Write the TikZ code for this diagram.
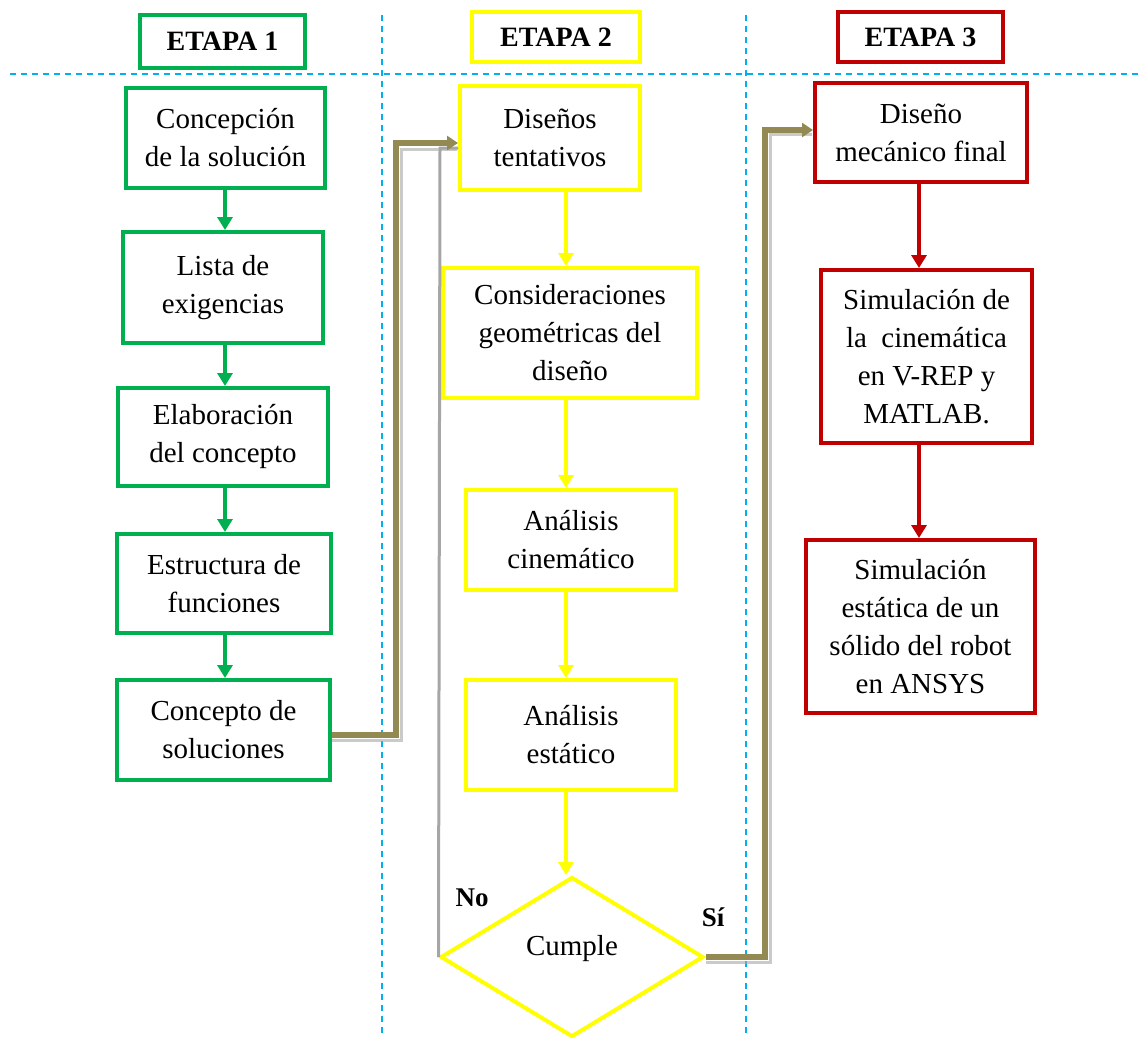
\documentclass[tikz,border=0pt]{standalone}
\usepackage{fontspec}
\setmainfont{Liberation Serif}
\usetikzlibrary{shapes.geometric,arrows.meta}
\definecolor{etgreen}{HTML}{00B050}
\definecolor{etyellow}{HTML}{FFFF00}
\definecolor{etred}{HTML}{C00000}
\definecolor{olive}{HTML}{938953}
\definecolor{loopgray}{HTML}{A6A6A6}
\definecolor{guide}{HTML}{00B0F0}
\tikzset{
  box/.style={draw, line width=4pt, fill=white, inner sep=0pt, align=center,
    font=\fontsize{29}{38}\selectfont},
  head/.style={box, font=\fontsize{28}{34}\selectfont\bfseries},
  gbox/.style={box, draw=etgreen},
  ybox/.style={box, draw=etyellow},
  rbox/.style={box, draw=etred},
  flow/.style={line width=4pt, -{Triangle[width=15pt,length=13pt]}},
  link/.style={draw=olive, line width=6pt, -{Triangle[width=14pt,length=11pt]}},
  shade/.style={draw=loopgray, line width=3pt, opacity=0.6},
  guideline/.style={draw=guide, line width=1.5pt, dash pattern=on 6pt off 5pt},
  tag/.style={font=\fontsize{27}{30}\selectfont\bfseries}
}
\begin{document}
\begin{tikzpicture}[x=1pt, y=-1pt]
\useasboundingbox (0,0) rectangle (1140,1038);

% stage separators
\draw[guideline] (10,74) -- (1140,74);
\draw[guideline] (382,15) -- (382,1038);
\draw[guideline] (746,15) -- (746,1038);

% stage headings
\node[head, draw=etgreen, minimum width=165pt, minimum height=53pt] (h1) at (222.5,41.5) {ETAPA 1};
\node[head, draw=etyellow, minimum width=168pt, minimum height=50pt] (h2) at (556,37) {ETAPA 2};
\node[head, draw=etred, minimum width=165pt, minimum height=50pt] (h3) at (920.5,37) {ETAPA 3};

% stage 1
\node[gbox, minimum width=199pt, minimum height=100pt] (c1) at (225.5,138) {Concepción\\de la solución};
\node[gbox, minimum width=200pt, minimum height=111pt] (c2) at (223,287.5) {Lista de\\exigencias};
\node[gbox, minimum width=210pt, minimum height=98pt] (c3) at (223,437) {Elaboración\\del concepto};
\node[gbox, minimum width=214pt, minimum height=99pt] (c4) at (224,583.5) {Estructura de\\funciones};
\node[gbox, minimum width=213pt, minimum height=100pt] (c5) at (223.5,730) {Concepto de\\soluciones};

% stage 2
\node[ybox, minimum width=180pt, minimum height=104pt] (d1) at (550,138) {Diseños\\tentativos};
\node[ybox, minimum width=254pt, minimum height=130pt] (d2) at (570,333) {Consideraciones\\geométricas del\\diseño};
\node[ybox, minimum width=210pt, minimum height=100pt] (d3) at (571,540) {Análisis\\cinemático};
\node[ybox, minimum width=210pt, minimum height=110pt] (d4) at (571,735) {Análisis\\estático};
\node[box, draw=etyellow, shape=diamond, minimum width=263pt, minimum height=160pt] (d5) at (572,957) {\raisebox{2pt}[0pt][0pt]{Cumple}};

% stage 3
\node[rbox, minimum width=212pt, minimum height=99pt] (e1) at (921,132.5) {Diseño\\mecánico final};
\node[rbox, minimum width=211pt, minimum height=173pt] (e2) at (926.5,356.5) {Simulación de\\la\ \ cinemática\\en V-REP y\\MATLAB.};
\node[rbox, minimum width=229pt, minimum height=173pt] (e3) at (920.5,626.5) {Simulación\\estática de un\\sólido del robot\\en ANSYS};

% arrow columns
\coordinate (a1) at (225,0);
\coordinate (a2) at (566,0);
\coordinate (a3) at (919,0);

\draw[flow, draw=etgreen] (c1.south -| a1) -- (c2.north -| a1);
\draw[flow, draw=etgreen] (c2.south -| a1) -- (c3.north -| a1);
\draw[flow, draw=etgreen] (c3.south -| a1) -- (c4.north -| a1);
\draw[flow, draw=etgreen] (c4.south -| a1) -- (c5.north -| a1);

\draw[flow, line width=3.5pt, draw=etyellow] (d1.south -| a2) -- (d2.north -| a2);
\draw[flow, line width=3.5pt, draw=etyellow] (d2.south -| a2) -- (d3.north -| a2);
\draw[flow, line width=3.5pt, draw=etyellow] (d3.south -| a2) -- (d4.north -| a2);
\draw[flow, line width=3.5pt, draw=etyellow] (d4.south -| a2) -- (d5.north -| a2);

\draw[flow, draw=etred] (e1.south -| a3) -- (e2.north -| a3);
\draw[flow, draw=etred] (e2.south -| a3) -- (e3.north -| a3);

% routing points between the stages
\coordinate (r1) at (396,0);
\coordinate (r2) at (440,148);
\coordinate (r3) at (765,0);

% "No" loop back to the tentative designs
\draw[draw=loopgray, line width=3pt] (d5.west) -- (r2) -- (r2 -| d1.west);

% stage transitions
\draw[shade] (c5.east |- 0,740) -- (401,740) -- (401,149) -- (457,149);
\draw[link] (c5.east |- 0,735) -- (r1 |- 0,735) -- (r1 |- 0,143) -- (d1.west |- 0,143);
\draw[shade] (d5.east |- 0,962) -- (770,962) -- (770,135) -- (812,135);
\draw[link] (d5.east) -- (r3 |- d5.east) -- (r3 |- 0,130) -- (e1.west |- 0,130);

% decision labels
\node[tag] (no) at (472,898) {No};
\node[tag] (si) at (713,917) {Sí};
\end{tikzpicture}
\end{document}
